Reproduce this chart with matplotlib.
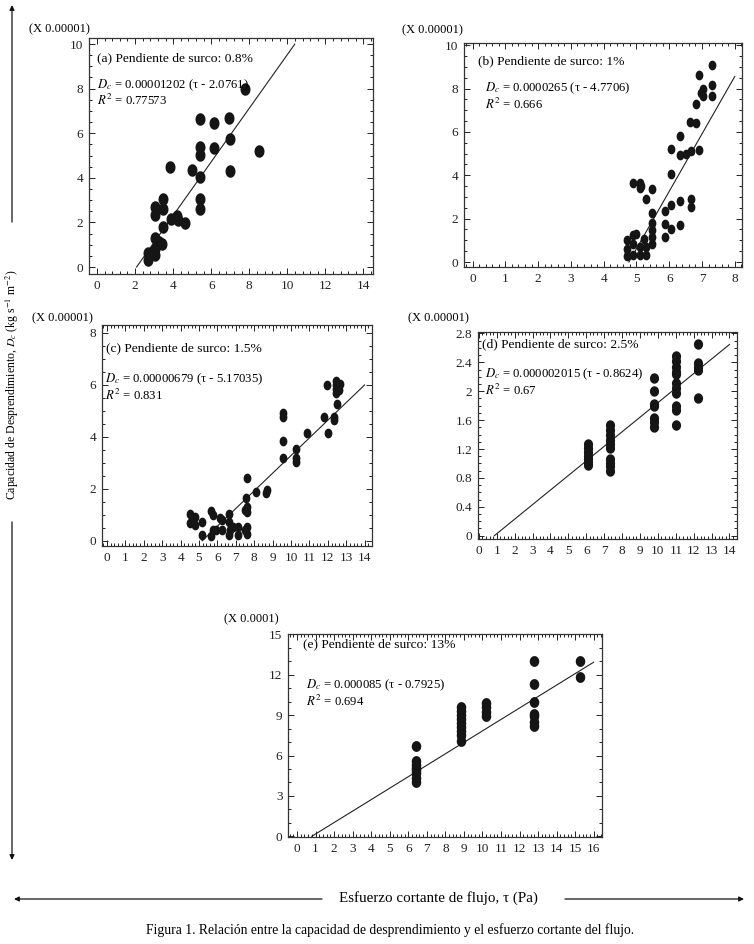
import numpy as np
import matplotlib
matplotlib.use("Agg")
import matplotlib.pyplot as plt
from matplotlib.path import Path
from matplotlib.ticker import AutoMinorLocator

plt.rcParams['font.family'] = ['Liberation Serif', 'DejaVu Serif']
plt.rcParams['mathtext.fontset'] = 'stix'

# ---------------- data (units: tick-scale of each panel) ----------------
a_x = [7.75, 5.43, 6.17, 6.95, 5.40, 5.43, 6.17, 6.97, 8.53, 3.86, 5.00, 5.43, 6.97,
       5.43, 5.43, 3.45, 3.45, 3.07, 3.07, 3.45, 3.88, 4.22, 4.28, 4.62, 3.07, 3.41,
       3.07, 2.69, 2.69, 3.07, 3.24]
a_y = [8.00, 6.63, 6.48, 6.69, 5.39, 5.01, 5.34, 5.76, 5.21, 4.49, 4.34, 4.04, 4.31,
       3.07, 2.62, 3.04, 2.62, 2.69, 2.32, 1.80, 2.17, 2.28, 2.10, 1.98, 1.32, 1.05,
       0.82, 0.64, 0.30, 0.52, 1.12]

b_x = [7.32, 6.92, 7.32, 7.32, 7.03, 6.96, 7.03, 6.83, 6.63, 6.83, 6.34, 6.05, 6.33,
       6.52, 6.65, 6.92, 6.06, 6.05, 6.34, 6.65, 6.65, 5.86, 5.86, 6.05, 6.34, 5.86,
       5.47, 5.28, 4.90, 5.10, 5.14, 5.10, 5.47, 5.47, 5.47, 5.47, 5.47,
       4.70, 4.70, 4.70, 4.90, 4.90, 4.98, 5.10, 5.10, 5.23, 5.30, 5.28, 4.90]
b_y = [9.07, 8.63, 8.15, 7.64, 7.98, 7.79, 7.64, 7.30, 6.45, 6.40, 5.79, 5.20, 4.92,
       4.98, 5.14, 5.15, 4.04, 2.62, 2.81, 2.90, 2.55, 2.35, 1.73, 1.53, 1.71, 1.16,
       3.35, 2.90, 3.63, 3.66, 3.50, 3.40, 2.27, 1.81, 1.47, 1.16, 0.85,
       1.00, 0.62, 0.26, 0.85, 0.31, 1.31, 0.69, 0.31, 1.08, 0.69, 0.31, 1.23]

c_x = [11.94, 12.46, 12.46, 12.46, 12.46, 12.64, 12.60, 12.50, 11.78, 12.32, 12.32,
       12.00, 10.87, 9.58, 9.58, 9.58, 9.58, 10.29, 10.29, 10.29, 8.70, 8.62, 8.08,
       7.63, 7.57, 7.63, 7.63, 7.48, 7.63, 7.63, 7.48, 7.12, 7.12, 6.63, 6.63, 6.63,
       6.25, 6.25, 5.76, 5.76, 5.94, 5.63, 5.63, 5.16, 5.16, 4.49, 4.49, 4.76, 4.76,
       6.70, 6.85, 6.12]
c_y = [5.99, 6.15, 5.99, 5.82, 5.67, 6.05, 5.79, 5.28, 4.77, 4.77, 4.64,
       4.15, 4.15, 4.90, 4.77, 3.85, 3.20, 3.53, 3.17, 3.04, 1.95, 1.85, 1.88,
       2.40, 1.63, 1.31, 1.12, 1.18, 0.54, 0.28, 0.41, 0.54, 0.22, 1.05, 0.73, 0.22,
       0.79, 0.41, 0.99, 0.41, 0.41, 1.15, 0.18, 0.73, 0.22, 1.05, 0.67, 0.92, 0.60,
       0.41, 0.54, 0.86]

d_x = [6.1] * 7 + [7.35] * 10 + [9.8] * 7 + [11.0] * 11 + [12.25] * 5
d_y = [1.27, 1.22, 1.16, 1.11, 1.06, 1.02, 0.98,
       1.53, 1.47, 1.40, 1.33, 1.27, 1.21, 1.06, 1.00, 0.96, 0.89,
       2.18, 2.00, 1.83, 1.80, 1.63, 1.58, 1.50,
       2.49, 2.42, 2.34, 2.27, 2.24, 2.11, 2.04, 1.97, 1.80, 1.74, 1.53,
       2.66, 2.39, 2.34, 2.29, 1.90]

e_x = [6.41] * 8 + [8.85] * 9 + [10.18] * 4 + [12.76] * 7 + [15.24] * 2
e_y = [6.7, 5.6, 5.3, 4.9, 4.7, 4.3, 4.0, 5.1,
       9.6, 9.3, 9.0, 8.7, 8.4, 8.1, 7.8, 7.5, 7.1,
       9.9, 9.6, 9.2, 8.9,
       13.0, 11.3, 10.0, 9.1, 8.9, 8.5, 8.2,
       13.0, 11.8]

# fitted equations: slope (in tick units), threshold tau, end of line
a_fit = (1.202, 2.0761, 10.39)
b_fit = (2.65, 4.7706, 8.0)
c_fit = (0.679, 5.17035, 14.0)
d_fit = (0.2015, 0.8624, 14.0)
e_fit = (0.85, 0.7925, 16.0)

titles = ["(a) Pendiente de surco: 0.8%", "(b) Pendiente de surco: 1%",
          "(c) Pendiente de surco: 1.5%", "(d) Pendiente de surco: 2.5%",
          "(e) Pendiente de surco: 13%"]
eqs = [r"$D_c$ = 0.00001202 (τ - 2.0761)", r"$D_c$ = 0.0000265 (τ - 4.7706)",
       r"$D_c$ = 0.00000679 (τ - 5.17035)", r"$D_c$ = 0.000002015 (τ - 0.8624)",
       r"$D_c$ = 0.000085 (τ - 0.7925)"]
r2s = [r"$R^2$ = 0.77573", r"$R^2$ = 0.666", r"$R^2$ = 0.831", r"$R^2$ = 0.67",
       r"$R^2$ = 0.694"]
scales = ["(X 0.00001)", "(X 0.00001)", "(X 0.00001)", "(X 0.00001)", "(X 0.0001)"]

W, H = 754, 944
fig = plt.figure(figsize=(W / 100, H / 100), dpi=100)

# ellipse marker (taller than wide)
t = np.linspace(0, 2 * np.pi, 40)
ell = Path(np.column_stack([0.8 * np.cos(t), np.sin(t)]), closed=True)
ell2 = Path(np.column_stack([0.88 * np.cos(t), np.sin(t)]), closed=True)


def make_ax(l, r, top, bot):
    return fig.add_axes([l / W, 1 - bot / H, (r - l) / W, (bot - top) / H])


panels = [
    dict(box=(89, 373, 38, 274), xlim=(-0.42, 14.5), ylim=(-0.31, 10.27), xsub=5, ysub=4,
         xt=np.arange(0, 15, 2), yt=np.arange(0, 11, 2), data=(a_x, a_y),
         fit=a_fit, ms=9.0, mk=ell, tpos=(0.028, 0.915), epos=(0.028, 0.80),
         rpos=(0.028, 0.735), spos=(90, 29)),
    dict(box=(464, 742, 43, 267), xlim=(-0.26, 8.22), ylim=(-0.23, 10.1), xsub=5, ysub=4,
         xt=np.arange(0, 9, 1), yt=np.arange(0, 11, 2), data=(b_x, b_y),
         fit=b_fit, ms=7.0, mk=ell, tpos=(0.05, 0.92), epos=(0.076, 0.80),
         rpos=(0.076, 0.725), spos=(463, 30)),
    dict(box=(102, 372, 325, 546), xlim=(-0.27, 14.4), ylim=(-0.2, 8.3), xsub=5, ysub=4,
         xt=np.arange(0, 15, 1), yt=np.arange(0, 9, 2), data=(c_x, c_y),
         fit=c_fit, ms=7.0, mk=ell, tpos=(0.015, 0.896), epos=(0.012, 0.755),
         rpos=(0.012, 0.68), spos=(93, 318)),
    dict(box=(478, 737, 332, 539), xlim=(-0.05, 14.42), ylim=(-0.046, 2.82), xsub=5, ysub=4,
         xt=np.arange(0, 15, 1), yt=np.round(np.arange(0, 2.81, 0.4), 1),
         data=(d_x, d_y), fit=d_fit, ms=7.5, mk=ell2, tpos=(0.015, 0.94),
         epos=(0.027, 0.795), rpos=(0.027, 0.72), spos=(469, 318)),
    dict(box=(288, 602, 634, 837), xlim=(-0.49, 16.45), ylim=(-0.05, 15.02), xsub=5, ysub=3,
         xt=np.arange(0, 17, 1), yt=np.arange(0, 16, 3), data=(e_x, e_y),
         fit=e_fit, ms=7.8, mk=ell2, tpos=(0.048, 0.95), epos=(0.057, 0.745),
         rpos=(0.057, 0.67), spos=(279, 619)),
]

fs = 9.5
for i, p in enumerate(panels):
    ax = make_ax(*p['box'])
    xs, ys = p['data']
    ax.plot(xs, ys, linestyle='none', marker=p['mk'], markersize=p['ms'],
            color='#151515', markeredgewidth=0, zorder=3)
    k, tau0, xend = p['fit']
    fx = np.array([tau0, xend])
    ax.plot(fx, k * (fx - tau0), color='#222222', lw=0.8, zorder=2)
    ax.set_xlim(*p['xlim'])
    ax.set_ylim(*p['ylim'])
    ax.set_xticks(p['xt'])
    ax.set_yticks(p['yt'])
    ax.set_yticklabels([("%g" % v) for v in p['yt']])
    ax.xaxis.set_minor_locator(AutoMinorLocator(p['xsub']))
    ax.yaxis.set_minor_locator(AutoMinorLocator(p['ysub']))
    ax.tick_params(which='both', direction='in', top=True, right=True,
                   labelsize=fs, width=0.7, colors='#222222', pad=4)
    ax.tick_params(which='major', length=4.5)
    ax.tick_params(which='minor', length=2.2)
    for s in ax.spines.values():
        s.set_linewidth(0.9)
        s.set_color('#333333')
    ax.text(p['tpos'][0], p['tpos'][1], titles[i], transform=ax.transAxes,
            fontsize=fs + 0.2, va='center', ha='left')
    ax.text(p['epos'][0], p['epos'][1], eqs[i], transform=ax.transAxes,
            fontsize=fs - 0.3, va='center', ha='left')
    ax.text(p['rpos'][0], p['rpos'][1], r2s[i], transform=ax.transAxes,
            fontsize=fs - 0.3, va='center', ha='left')
    fig.text(p['spos'][0] / W, 1 - p['spos'][1] / H, scales[i], fontsize=fs - 0.5,
             ha='right', va='center')

# shared axis labels with arrows
arrow = dict(arrowstyle='-|>', color='#111111', lw=0.9, mutation_scale=7,
             shrinkA=0, shrinkB=0)
fig.text(12 / W, 1 - 385 / H,
         r"Capacidad de Desprendimiento, $D_c$ (kg s$^{-1}$ m$^{-2}$)",
         rotation=90, fontsize=8.5, ha='center', va='center')
fig.add_artist(matplotlib.patches.FancyArrowPatch((12 / W, 1 - 222 / H), (12 / W, 1 - 5 / H),
                                                  transform=fig.transFigure, **arrow))
fig.add_artist(matplotlib.patches.FancyArrowPatch((12 / W, 1 - 522 / H), (12 / W, 1 - 860 / H),
                                                  transform=fig.transFigure, **arrow))

fig.text(438 / W, 1 - 898 / H, "Esfuerzo cortante de flujo, τ (Pa)", fontsize=10.8,
         ha='center', va='center')
fig.add_artist(matplotlib.patches.FancyArrowPatch((322 / W, 1 - 899 / H), (14 / W, 1 - 899 / H),
                                                  transform=fig.transFigure, **arrow))
fig.add_artist(matplotlib.patches.FancyArrowPatch((565 / W, 1 - 899 / H), (744 / W, 1 - 899 / H),
                                                  transform=fig.transFigure, **arrow))

fig.text(390 / W, 1 - 930 / H,
         "Figura 1. Relación entre la capacidad de desprendimiento y el esfuerzo cortante del flujo.",
         fontsize=9.8, ha='center', va='center')

fig.savefig("out.png", dpi=100)
